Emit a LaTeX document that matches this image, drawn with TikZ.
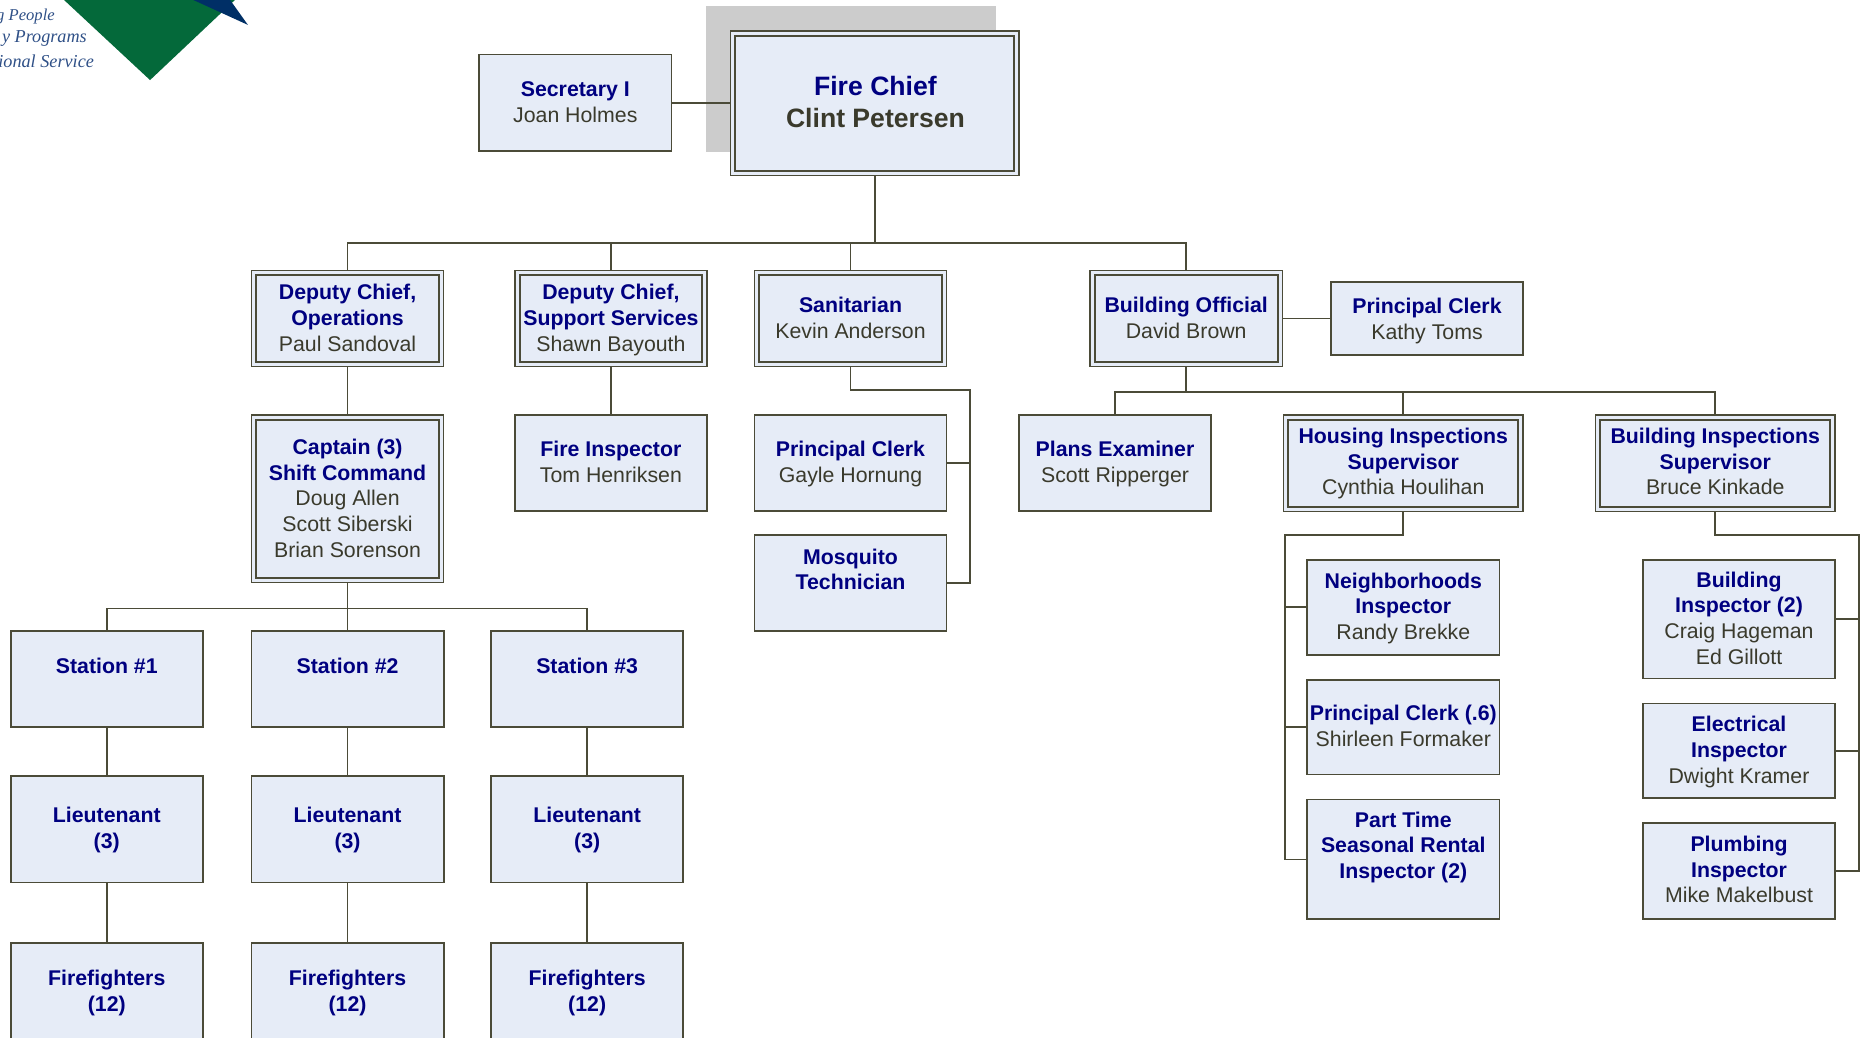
\documentclass[tikz,border=0pt]{standalone}
\usepackage{fontspec}
\setmainfont{Liberation Sans}
\newfontfamily\logofont{Liberation Serif}
\usetikzlibrary{calc}
\definecolor{linecol}{HTML}{4B4B38}
\definecolor{boxfill}{HTML}{E6ECF7}
\definecolor{titlecol}{HTML}{000080}
\definecolor{namecol}{HTML}{3A3A2C}
\definecolor{shadowcol}{HTML}{CCCCCC}
\definecolor{logogreen}{HTML}{04693A}
\definecolor{logonavy}{HTML}{002F66}
\definecolor{logotext}{HTML}{2F5087}
\tikzset{
  orgbox/.style={draw=linecol,fill=boxfill,line width=0.85pt,inner sep=0pt,outer sep=0pt},
  outerbox/.style={draw=linecol,fill=boxfill,line width=0.7pt,inner sep=0pt,outer sep=0pt},
  innerbox/.style={draw=linecol,line width=1pt},
  orgtext/.style={align=center,text=namecol,font=\fontsize{10.65}{12.87}\selectfont,inner sep=0pt},
  chieftext/.style={align=center,text=namecol,font=\fontsize{13.3}{15.9}\selectfont\bfseries,inner sep=0pt},
  link/.style={draw=linecol,line width=0.9pt},
  logoline/.style={anchor=east,text=logotext,inner sep=0pt,font=\logofont\itshape\fontsize{9.1}{11}\selectfont}
}
\newcommand{\bt}[1]{\textcolor{titlecol}{\textbf{#1}}}
% name, left, top, right, bottom, text centre y, text
\newcommand{\obox}[7]{%
  \pgfmathsetmacro{\bw}{(#4-#2)*0.5931}\pgfmathsetmacro{\bh}{(#5-#3)*0.5931}%
  \node[orgbox,minimum width=\bw pt,minimum height=\bh pt] (#1) at ({(#2+#4)/2},{(#3+#5)/2}) {};
  \node[orgtext] (#1-t) at ({(#2+#4)/2},{#6+2.1}) {\strut #7\strut};
}
\newcommand{\dbox}[7]{%
  \pgfmathsetmacro{\bw}{(#4-#2)*0.5931}\pgfmathsetmacro{\bh}{(#5-#3)*0.5931}%
  \node[outerbox,minimum width=\bw pt,minimum height=\bh pt] (#1) at ({(#2+#4)/2},{(#3+#5)/2}) {};
  \draw[innerbox] ($(#1.north west)+(4,4)$) rectangle ($(#1.south east)+(-4,-4)$);
  \node[orgtext] (#1-t) at ({(#2+#4)/2},{#6+2.1}) {\strut #7\strut};
}
\begin{document}
\begin{tikzpicture}[x=0.5931pt,y=-0.5931pt]
\clip (0,0) rectangle (1568,875);
\useasboundingbox (0,0) rectangle (1568,875);
% logo
\fill[logogreen] (54,0) -- (126.5,67.5) -- (198,0) -- cycle;
\fill[logonavy] (163,0) -- (209,21) -- (194,0) -- cycle;
\node[logoline,font=\logofont\itshape\fontsize{8.3}{11}\selectfont] (logoa) at (46.5,13.5) {g People};
\node[logoline] (logob) at (73.5,32.5) {y Programs};
\node[logoline] (logoc) at (79.5,51.5) {ional Service};
% shadow of the chief box
\fill[shadowcol] (595,5) rectangle (840,128);
% connectors
\coordinate (busa) at (0,205);
\coordinate (busb) at (0,330.5);
\coordinate (busc) at (0,513);
\coordinate (sanbend) at (818,329);
\coordinate (houbend) at (1083,451);
\coordinate (bldbend) at (1567,451);
% boxes
\dbox{chief}{616}{26}{859}{148}{85.5}{}
\node[chieftext] (chief-title) at (738,86) {\textcolor{titlecol}{Fire Chief}\\Clint Petersen};
\obox{sec}{404}{46}{566}{127}{86}{\bt{Secretary I}\\Joan Holmes}
\dbox{depops}{212}{228}{374}{309}{268}{\bt{Deputy Chief,}\\\bt{Operations}\\Paul Sandoval}
\dbox{depsup}{434}{228}{596}{309}{268}{\bt{Deputy Chief,}\\\bt{Support Services}\\Shawn Bayouth}
\dbox{sanit}{636}{228}{798}{309}{268}{\bt{Sanitarian}\\Kevin Anderson}
\dbox{bldoff}{919}{228}{1081}{309}{268}{\bt{Building Official}\\David Brown}
\obox{kathy}{1122}{238}{1284}{299}{268.5}{\bt{Principal Clerk}\\Kathy Toms}
\dbox{capt}{212}{350}{374}{491}{420}{\bt{Captain (3)}\\\bt{Shift Command}\\Doug Allen\\Scott Siberski\\Brian Sorenson}
\obox{finsp}{434}{350}{596}{431}{389.5}{\bt{Fire Inspector}\\Tom Henriksen}
\obox{gayle}{636}{350}{798}{431}{389.5}{\bt{Principal Clerk}\\Gayle Hornung}
\obox{mosq}{636}{451}{798}{532}{480}{\bt{Mosquito}\\\bt{Technician}}
\obox{plans}{859}{350}{1021}{431}{389.5}{\bt{Plans Examiner}\\Scott Ripperger}
\dbox{housing}{1082}{350}{1284}{431}{389}{\bt{Housing Inspections}\\\bt{Supervisor}\\Cynthia Houlihan}
\dbox{bldinsp}{1345}{350}{1547}{431}{389}{\bt{Building Inspections}\\\bt{Supervisor}\\Bruce Kinkade}
\obox{neigh}{1102}{472}{1264}{552}{511}{\bt{Neighborhoods}\\\bt{Inspector}\\Randy Brekke}
\obox{pcsix}{1102}{573}{1264}{653}{612}{\bt{Principal Clerk (.6)}\\Shirleen Formaker}
\obox{part}{1102}{674}{1264}{775}{712.5}{\bt{Part Time}\\\bt{Seasonal Rental}\\\bt{Inspector (2)}}
\obox{binsp}{1385}{472}{1547}{572}{521}{\bt{Building}\\\bt{Inspector (2)}\\Craig Hageman\\Ed Gillott}
\obox{elec}{1385}{593}{1547}{673}{632}{\bt{Electrical}\\\bt{Inspector}\\Dwight Kramer}
\obox{plumb}{1385}{694}{1547}{775}{733}{\bt{Plumbing}\\\bt{Inspector}\\Mike Makelbust}
\obox{sta}{9}{532}{171}{613}{561}{\bt{Station \#1}}
\obox{stb}{212}{532}{374}{613}{561}{\bt{Station \#2}}
\obox{stc}{414}{532}{576}{613}{561}{\bt{Station \#3}}
\obox{lta}{9}{654}{171}{744}{698}{\bt{Lieutenant}\\\bt{(3)}}
\obox{ltb}{212}{654}{374}{744}{698}{\bt{Lieutenant}\\\bt{(3)}}
\obox{ltc}{414}{654}{576}{744}{698}{\bt{Lieutenant}\\\bt{(3)}}
\obox{ffa}{9}{795}{171}{885}{835}{\bt{Firefighters}\\\bt{(12)}}
\obox{ffb}{212}{795}{374}{885}{835}{\bt{Firefighters}\\\bt{(12)}}
\obox{ffc}{414}{795}{576}{885}{835}{\bt{Firefighters}\\\bt{(12)}}
% links
\draw[link] (sec.east) -- (sec.east -| chief.west);
\draw[link,line width=1.1pt] (chief.south) -- (chief.south |- busa);
\draw[link] (chief.south |- busa) -| (depops.north);
\draw[link] (chief.south |- busa) -| (depsup.north);
\draw[link] (chief.south |- busa) -| (sanit.north);
\draw[link] (chief.south |- busa) -| (bldoff.north);
\draw[link] (bldoff.east) -- (kathy.west);
\draw[link] (depops.south) -- (capt.north);
\draw[link] (depsup.south) -- (finsp.north);
\draw[link] (sanit.south) |- (sanbend) |- (mosq.east);
\draw[link] (gayle.east) -- (gayle.east -| sanbend);
\draw[link] (bldoff.south) -- (bldoff.south |- busb);
\draw[link] (bldoff.south |- busb) -| (plans.north);
\draw[link] (bldoff.south |- busb) -| (housing.north);
\draw[link] (bldoff.south |- busb) -| (bldinsp.north);
\draw[link] (capt.south) -- (capt.south |- busc);
\draw[link] (capt.south |- busc) -| (sta.north);
\draw[link] (capt.south |- busc) -| (stb.north);
\draw[link] (capt.south |- busc) -| (stc.north);
\draw[link] (sta.south) -- (lta.north);
\draw[link] (stb.south) -- (ltb.north);
\draw[link] (stc.south) -- (ltc.north);
\draw[link] (lta.south) -- (ffa.north);
\draw[link] (ltb.south) -- (ffb.north);
\draw[link] (ltc.south) -- (ffc.north);
\draw[link] (housing.south) |- (houbend) |- (part.west);
\draw[link] (neigh.west) -- (neigh.west -| houbend);
\draw[link] (pcsix.west) -- (pcsix.west -| houbend);
\draw[link] (bldinsp.south) |- (bldbend) |- (plumb.east);
\draw[link] (binsp.east) -- (binsp.east -| bldbend);
\draw[link] (elec.east) -- (elec.east -| bldbend);
\end{tikzpicture}
\end{document}
